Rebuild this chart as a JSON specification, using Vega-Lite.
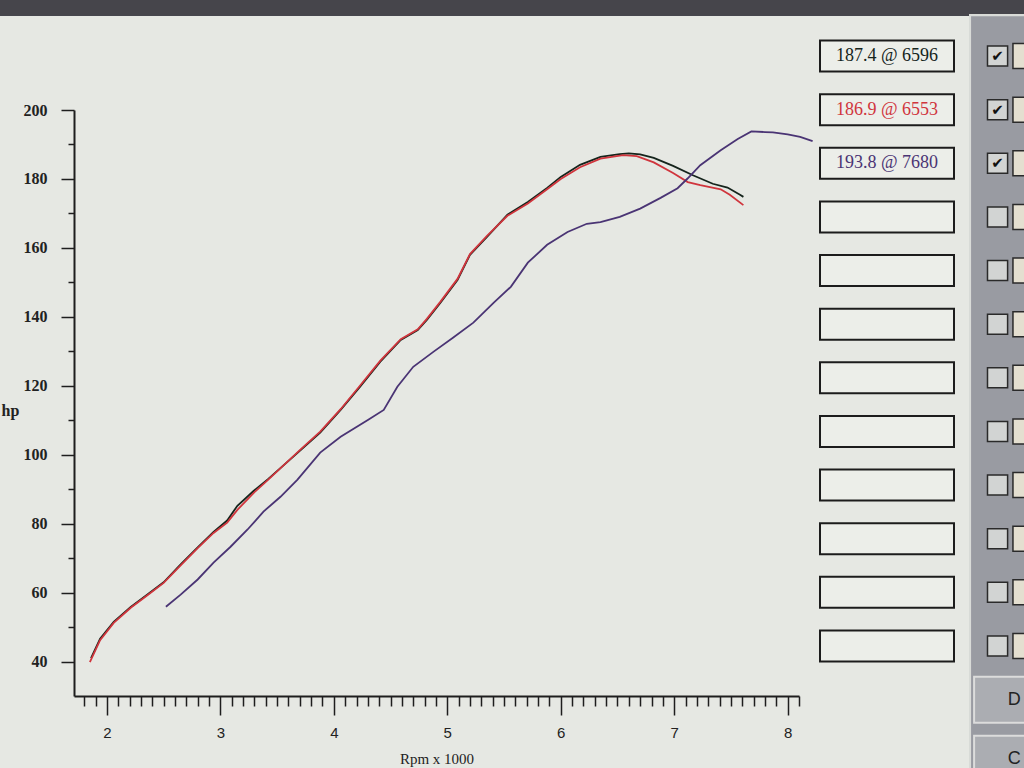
{
  "$schema": "https://vega.github.io/schema/vega-lite/v6.json",
  "width": 725,
  "height": 586,
  "autosize": {"type": "none"},
  "padding": {"left": 74, "top": 110, "right": 225, "bottom": 72},
  "background": "#e6e8e3",
  "config": {"view": {"stroke": null}, "font": "Liberation Serif"},
  "datasets": {
    "runs": [
      {"run": "187.4 @ 6596", "rpm": 1.86, "hp": 41.0},
      {"run": "187.4 @ 6596", "rpm": 1.94, "hp": 46.6},
      {"run": "187.4 @ 6596", "rpm": 2.06, "hp": 51.5},
      {"run": "187.4 @ 6596", "rpm": 2.21, "hp": 55.8},
      {"run": "187.4 @ 6596", "rpm": 2.36, "hp": 59.5},
      {"run": "187.4 @ 6596", "rpm": 2.5, "hp": 63.0},
      {"run": "187.4 @ 6596", "rpm": 2.65, "hp": 68.2},
      {"run": "187.4 @ 6596", "rpm": 2.8, "hp": 73.1},
      {"run": "187.4 @ 6596", "rpm": 2.94, "hp": 77.6},
      {"run": "187.4 @ 6596", "rpm": 3.06, "hp": 80.9},
      {"run": "187.4 @ 6596", "rpm": 3.15, "hp": 85.2},
      {"run": "187.4 @ 6596", "rpm": 3.29, "hp": 89.4},
      {"run": "187.4 @ 6596", "rpm": 3.42, "hp": 92.9},
      {"run": "187.4 @ 6596", "rpm": 3.71, "hp": 101.4},
      {"run": "187.4 @ 6596", "rpm": 3.88, "hp": 106.4},
      {"run": "187.4 @ 6596", "rpm": 4.06, "hp": 113.0},
      {"run": "187.4 @ 6596", "rpm": 4.23, "hp": 119.7},
      {"run": "187.4 @ 6596", "rpm": 4.41, "hp": 127.0},
      {"run": "187.4 @ 6596", "rpm": 4.59, "hp": 133.3},
      {"run": "187.4 @ 6596", "rpm": 4.74, "hp": 136.2},
      {"run": "187.4 @ 6596", "rpm": 4.82, "hp": 139.1},
      {"run": "187.4 @ 6596", "rpm": 4.94, "hp": 144.1},
      {"run": "187.4 @ 6596", "rpm": 5.09, "hp": 150.7},
      {"run": "187.4 @ 6596", "rpm": 5.2, "hp": 158.0},
      {"run": "187.4 @ 6596", "rpm": 5.35, "hp": 163.2},
      {"run": "187.4 @ 6596", "rpm": 5.53, "hp": 169.6},
      {"run": "187.4 @ 6596", "rpm": 5.71, "hp": 173.3},
      {"run": "187.4 @ 6596", "rpm": 5.88, "hp": 177.4},
      {"run": "187.4 @ 6596", "rpm": 6.0, "hp": 180.6},
      {"run": "187.4 @ 6596", "rpm": 6.17, "hp": 184.1},
      {"run": "187.4 @ 6596", "rpm": 6.35, "hp": 186.4},
      {"run": "187.4 @ 6596", "rpm": 6.52, "hp": 187.2},
      {"run": "187.4 @ 6596", "rpm": 6.6, "hp": 187.4},
      {"run": "187.4 @ 6596", "rpm": 6.7, "hp": 187.1},
      {"run": "187.4 @ 6596", "rpm": 6.82, "hp": 186.1},
      {"run": "187.4 @ 6596", "rpm": 6.99, "hp": 183.8},
      {"run": "187.4 @ 6596", "rpm": 7.17, "hp": 181.0},
      {"run": "187.4 @ 6596", "rpm": 7.34, "hp": 178.6},
      {"run": "187.4 @ 6596", "rpm": 7.47, "hp": 177.5},
      {"run": "187.4 @ 6596", "rpm": 7.58, "hp": 175.4},
      {"run": "187.4 @ 6596", "rpm": 7.61, "hp": 174.8},
      {"run": "186.9 @ 6553", "rpm": 1.85, "hp": 39.8},
      {"run": "186.9 @ 6553", "rpm": 1.94, "hp": 46.2},
      {"run": "186.9 @ 6553", "rpm": 2.06, "hp": 51.2},
      {"run": "186.9 @ 6553", "rpm": 2.21, "hp": 55.6},
      {"run": "186.9 @ 6553", "rpm": 2.36, "hp": 59.3},
      {"run": "186.9 @ 6553", "rpm": 2.5, "hp": 62.8},
      {"run": "186.9 @ 6553", "rpm": 2.65, "hp": 67.9},
      {"run": "186.9 @ 6553", "rpm": 2.8, "hp": 72.9},
      {"run": "186.9 @ 6553", "rpm": 2.94, "hp": 77.3},
      {"run": "186.9 @ 6553", "rpm": 3.06, "hp": 80.3},
      {"run": "186.9 @ 6553", "rpm": 3.15, "hp": 84.0},
      {"run": "186.9 @ 6553", "rpm": 3.29, "hp": 88.8},
      {"run": "186.9 @ 6553", "rpm": 3.42, "hp": 92.7},
      {"run": "186.9 @ 6553", "rpm": 3.71, "hp": 101.6},
      {"run": "186.9 @ 6553", "rpm": 3.88, "hp": 106.7},
      {"run": "186.9 @ 6553", "rpm": 4.06, "hp": 113.2},
      {"run": "186.9 @ 6553", "rpm": 4.23, "hp": 120.0},
      {"run": "186.9 @ 6553", "rpm": 4.41, "hp": 127.3},
      {"run": "186.9 @ 6553", "rpm": 4.59, "hp": 133.5},
      {"run": "186.9 @ 6553", "rpm": 4.74, "hp": 136.4},
      {"run": "186.9 @ 6553", "rpm": 4.82, "hp": 139.4},
      {"run": "186.9 @ 6553", "rpm": 4.94, "hp": 144.4},
      {"run": "186.9 @ 6553", "rpm": 5.09, "hp": 151.0},
      {"run": "186.9 @ 6553", "rpm": 5.2, "hp": 158.2},
      {"run": "186.9 @ 6553", "rpm": 5.35, "hp": 163.5},
      {"run": "186.9 @ 6553", "rpm": 5.53, "hp": 169.3},
      {"run": "186.9 @ 6553", "rpm": 5.71, "hp": 172.9},
      {"run": "186.9 @ 6553", "rpm": 5.88, "hp": 177.0},
      {"run": "186.9 @ 6553", "rpm": 6.0, "hp": 180.0},
      {"run": "186.9 @ 6553", "rpm": 6.17, "hp": 183.4},
      {"run": "186.9 @ 6553", "rpm": 6.35, "hp": 185.9},
      {"run": "186.9 @ 6553", "rpm": 6.55, "hp": 186.9},
      {"run": "186.9 @ 6553", "rpm": 6.67, "hp": 186.6},
      {"run": "186.9 @ 6553", "rpm": 6.82, "hp": 184.8},
      {"run": "186.9 @ 6553", "rpm": 6.99, "hp": 181.7},
      {"run": "186.9 @ 6553", "rpm": 7.12, "hp": 179.1},
      {"run": "186.9 @ 6553", "rpm": 7.23, "hp": 178.2},
      {"run": "186.9 @ 6553", "rpm": 7.41, "hp": 177.0},
      {"run": "186.9 @ 6553", "rpm": 7.49, "hp": 175.4},
      {"run": "186.9 @ 6553", "rpm": 7.61, "hp": 172.4},
      {"run": "193.8 @ 7680", "rpm": 2.52, "hp": 55.9},
      {"run": "193.8 @ 7680", "rpm": 2.65, "hp": 59.4},
      {"run": "193.8 @ 7680", "rpm": 2.8, "hp": 63.8},
      {"run": "193.8 @ 7680", "rpm": 2.94, "hp": 68.7},
      {"run": "193.8 @ 7680", "rpm": 3.09, "hp": 73.3},
      {"run": "193.8 @ 7680", "rpm": 3.24, "hp": 78.3},
      {"run": "193.8 @ 7680", "rpm": 3.38, "hp": 83.5},
      {"run": "193.8 @ 7680", "rpm": 3.53, "hp": 87.8},
      {"run": "193.8 @ 7680", "rpm": 3.68, "hp": 92.8},
      {"run": "193.8 @ 7680", "rpm": 3.88, "hp": 100.6},
      {"run": "193.8 @ 7680", "rpm": 4.06, "hp": 105.2},
      {"run": "193.8 @ 7680", "rpm": 4.3, "hp": 110.1},
      {"run": "193.8 @ 7680", "rpm": 4.44, "hp": 113.0},
      {"run": "193.8 @ 7680", "rpm": 4.56, "hp": 119.7},
      {"run": "193.8 @ 7680", "rpm": 4.7, "hp": 125.5},
      {"run": "193.8 @ 7680", "rpm": 4.88, "hp": 129.9},
      {"run": "193.8 @ 7680", "rpm": 5.05, "hp": 133.9},
      {"run": "193.8 @ 7680", "rpm": 5.23, "hp": 138.3},
      {"run": "193.8 @ 7680", "rpm": 5.41, "hp": 144.1},
      {"run": "193.8 @ 7680", "rpm": 5.56, "hp": 148.7},
      {"run": "193.8 @ 7680", "rpm": 5.71, "hp": 155.7},
      {"run": "193.8 @ 7680", "rpm": 5.88, "hp": 160.9},
      {"run": "193.8 @ 7680", "rpm": 6.06, "hp": 164.6},
      {"run": "193.8 @ 7680", "rpm": 6.23, "hp": 167.0},
      {"run": "193.8 @ 7680", "rpm": 6.35, "hp": 167.5},
      {"run": "193.8 @ 7680", "rpm": 6.52, "hp": 169.0},
      {"run": "193.8 @ 7680", "rpm": 6.7, "hp": 171.4},
      {"run": "193.8 @ 7680", "rpm": 6.88, "hp": 174.5},
      {"run": "193.8 @ 7680", "rpm": 7.03, "hp": 177.3},
      {"run": "193.8 @ 7680", "rpm": 7.12, "hp": 180.2},
      {"run": "193.8 @ 7680", "rpm": 7.23, "hp": 184.0},
      {"run": "193.8 @ 7680", "rpm": 7.41, "hp": 188.3},
      {"run": "193.8 @ 7680", "rpm": 7.56, "hp": 191.6},
      {"run": "193.8 @ 7680", "rpm": 7.68, "hp": 193.8},
      {"run": "193.8 @ 7680", "rpm": 7.8, "hp": 193.6},
      {"run": "193.8 @ 7680", "rpm": 7.87, "hp": 193.5},
      {"run": "193.8 @ 7680", "rpm": 8.0, "hp": 192.9},
      {"run": "193.8 @ 7680", "rpm": 8.11, "hp": 192.2},
      {"run": "193.8 @ 7680", "rpm": 8.22, "hp": 191.0}
    ],
    "panel": [
      {"slot": 1, "kind": "entry", "run": "187.4 @ 6596", "checked": true},
      {"slot": 2, "kind": "entry", "run": "186.9 @ 6553", "checked": true},
      {"slot": 3, "kind": "entry", "run": "193.8 @ 7680", "checked": true},
      {"slot": 4, "kind": "entry", "run": null, "checked": false},
      {"slot": 5, "kind": "entry", "run": null, "checked": false},
      {"slot": 6, "kind": "entry", "run": null, "checked": false},
      {"slot": 7, "kind": "entry", "run": null, "checked": false},
      {"slot": 8, "kind": "entry", "run": null, "checked": false},
      {"slot": 9, "kind": "entry", "run": null, "checked": false},
      {"slot": 10, "kind": "entry", "run": null, "checked": false},
      {"slot": 11, "kind": "entry", "run": null, "checked": false},
      {"slot": 12, "kind": "entry", "run": null, "checked": false},
      {"slot": 13, "kind": "button", "label": "D"},
      {"slot": 14.1, "kind": "button", "label": "C"}
    ]
  },
  "layer": [
    {
      "data": {"name": "runs"},
      "mark": {"type": "line", "strokeWidth": 1.8, "clip": false},
      "encoding": {
        "x": {
          "field": "rpm",
          "type": "quantitative",
          "scale": {"domain": [1.71, 8.1], "nice": false, "zero": false},
          "axis": {
            "orient": "bottom",
            "values": [1.8,1.9,2,2.1,2.2,2.3,2.4,2.5,2.6,2.7,2.8,2.9,3,3.1,3.2,3.3,3.4,3.5,3.6,3.7,3.8,3.9,4,4.1,4.2,4.3,4.4,4.5,4.6,4.7,4.8,4.9,5,5.1,5.2,5.3,5.4,5.5,5.6,5.7,5.8,5.9,6,6.1,6.2,6.3,6.4,6.5,6.6,6.7,6.8,6.9,7,7.1,7.2,7.3,7.4,7.5,7.6,7.7,7.8,7.9,8,8.1],
            "grid": false,
            "domainColor": "#1e1e1e",
            "domainWidth": 2,
            "tickColor": "#1e1e1e",
            "tickWidth": 1.5,
            "tickSize": {"condition": {"test": "abs(datum.value - round(datum.value)) < 0.001", "value": 19}, "value": 10},
            "labelExpr": "abs(datum.value - round(datum.value)) < 0.001 ? format(datum.value, 'd') : ''",
            "labelFont": "Liberation Sans",
            "labelFontSize": 15,
            "labelColor": "#222222",
            "labelBaseline": "top",
            "labelPadding": 10,
            "labelFlush": false,
            "labelOverlap": false,
            "title": "Rpm x 1000",
            "titleFont": "Liberation Serif",
            "titleFontSize": 15,
            "titleFontWeight": "normal",
            "titleColor": "#222222",
            "titleBaseline": "top",
            "titleY": 55
          }
        },
        "y": {
          "field": "hp",
          "type": "quantitative",
          "scale": {"domain": [30, 200], "nice": false, "zero": false},
          "axis": {
            "orient": "left",
            "values": [40,50,60,70,80,90,100,110,120,130,140,150,160,170,180,190,200],
            "grid": false,
            "domainColor": "#1e1e1e",
            "domainWidth": 2,
            "tickColor": "#1e1e1e",
            "tickWidth": 1.5,
            "tickSize": {"condition": {"test": "datum.value % 20 === 0", "value": 13}, "value": 6},
            "labelExpr": "datum.value % 20 === 0 ? datum.label : ''",
            "labelFont": "Liberation Serif",
            "labelFontSize": 16,
            "labelFontWeight": "bold",
            "labelColor": "#222222",
            "labelPadding": 14,
            "labelFlush": false,
            "labelOverlap": false,
            "title": "hp",
            "titleFont": "Liberation Serif",
            "titleFontSize": 16,
            "titleFontWeight": "bold",
            "titleColor": "#222222",
            "titleAngle": 0,
            "titleAlign": "left",
            "titleBaseline": "middle",
            "titleX": -73,
            "titleY": 300
          }
        },
        "color": {
          "field": "run",
          "type": "nominal",
          "scale": {"domain": ["187.4 @ 6596", "186.9 @ 6553", "193.8 @ 7680"], "range": ["#15241c", "#d0353d", "#4a3474"]},
          "legend": null
        }
      }
    },
    {
      "data": {"name": "panel"},
      "layer": [
        {
          "mark": {"type": "rect", "fill": "#46454b"},
          "encoding": {
            "x": {"datum": -8, "type": "quantitative", "scale": {"domain": [0, 1], "range": [746, 880], "nice": false, "zero": false}, "axis": null},
            "x2": {"datum": 3},
            "y": {"datum": -1, "type": "quantitative", "scale": {"domain": [1, 12], "range": [-54, 536], "nice": false, "zero": false}, "axis": null},
            "y2": {"datum": 0.24}
          }
        },
        {
          "mark": {"type": "rect", "fill": "#999ba2", "stroke": "#d9dbd8", "strokeWidth": 2},
          "encoding": {
            "x": {"datum": 1.12, "type": "quantitative", "scale": {"domain": [0, 1], "range": [746, 880], "nice": false, "zero": false}, "axis": null},
            "x2": {"datum": 3},
            "y": {"datum": 0.24, "type": "quantitative", "scale": {"domain": [1, 12], "range": [-54, 536], "nice": false, "zero": false}, "axis": null},
            "y2": {"datum": 16}
          }
        },
        {
          "transform": [{"filter": "datum.kind === 'entry'"}],
          "mark": {"type": "rect", "height": 31, "fill": "#eceee9", "stroke": "#1c1c1c", "strokeWidth": 2},
          "encoding": {
            "x": {"datum": 0, "type": "quantitative", "scale": {"domain": [0, 1], "range": [746, 880], "nice": false, "zero": false}, "axis": null},
            "x2": {"datum": 1},
            "y": {"field": "slot", "type": "quantitative", "scale": {"domain": [1, 12], "range": [-54, 536], "nice": false, "zero": false}, "axis": null}
          }
        },
        {
          "transform": [{"filter": "datum.kind === 'entry' && datum.run != null"}],
          "mark": {"type": "text", "font": "Liberation Serif", "fontSize": 18, "align": "center", "baseline": "middle"},
          "encoding": {
            "x": {"datum": 0.5, "type": "quantitative", "scale": {"domain": [0, 1], "range": [746, 880], "nice": false, "zero": false}, "axis": null},
            "y": {"field": "slot", "type": "quantitative", "scale": {"domain": [1, 12], "range": [-54, 536], "nice": false, "zero": false}, "axis": null},
            "text": {"field": "run"},
            "color": {"field": "run", "type": "nominal", "legend": null}
          }
        },
        {
          "transform": [{"filter": "datum.kind === 'entry'"}],
          "mark": {"type": "rect", "height": 20, "fill": "#d2d4d3", "stroke": "#2a2a2a", "strokeWidth": 1.5},
          "encoding": {
            "x": {"datum": 1.25, "type": "quantitative", "scale": {"domain": [0, 1], "range": [746, 880], "nice": false, "zero": false}, "axis": null},
            "x2": {"datum": 1.4},
            "y": {"field": "slot", "type": "quantitative", "scale": {"domain": [1, 12], "range": [-54, 536], "nice": false, "zero": false}, "axis": null}
          }
        },
        {
          "transform": [{"filter": "datum.kind === 'entry' && datum.checked"}],
          "mark": {"type": "text", "text": "✔", "font": "DejaVu Sans", "fontSize": 15, "fontWeight": "bold", "color": "#111111", "align": "center", "baseline": "middle"},
          "encoding": {
            "x": {"datum": 1.325, "type": "quantitative", "scale": {"domain": [0, 1], "range": [746, 880], "nice": false, "zero": false}, "axis": null},
            "y": {"field": "slot", "type": "quantitative", "scale": {"domain": [1, 12], "range": [-54, 536], "nice": false, "zero": false}, "axis": null}
          }
        },
        {
          "transform": [{"filter": "datum.kind === 'entry'"}],
          "mark": {"type": "rect", "height": 25, "fill": "#e4dfd0", "stroke": "#2a2a2a", "strokeWidth": 1.5},
          "encoding": {
            "x": {"datum": 1.44, "type": "quantitative", "scale": {"domain": [0, 1], "range": [746, 880], "nice": false, "zero": false}, "axis": null},
            "x2": {"datum": 1.8},
            "y": {"field": "slot", "type": "quantitative", "scale": {"domain": [1, 12], "range": [-54, 536], "nice": false, "zero": false}, "axis": null}
          }
        },
        {
          "transform": [{"filter": "datum.kind === 'button'"}],
          "mark": {"type": "rect", "height": 46, "fill": "#abadb2", "stroke": "#dcdcdc", "strokeWidth": 2},
          "encoding": {
            "x": {"datum": 1.15, "type": "quantitative", "scale": {"domain": [0, 1], "range": [746, 880], "nice": false, "zero": false}, "axis": null},
            "x2": {"datum": 1.8},
            "y": {"field": "slot", "type": "quantitative", "scale": {"domain": [1, 12], "range": [-54, 536], "nice": false, "zero": false}, "axis": null}
          }
        },
        {
          "transform": [{"filter": "datum.kind === 'button'"}],
          "mark": {"type": "text", "font": "Liberation Sans", "fontSize": 18, "color": "#222222", "align": "center", "baseline": "middle"},
          "encoding": {
            "x": {"datum": 1.45, "type": "quantitative", "scale": {"domain": [0, 1], "range": [746, 880], "nice": false, "zero": false}, "axis": null},
            "y": {"field": "slot", "type": "quantitative", "scale": {"domain": [1, 12], "range": [-54, 536], "nice": false, "zero": false}, "axis": null},
            "text": {"field": "label"}
          }
        }
      ]
    }
  ],
  "resolve": {"scale": {"x": "independent", "y": "independent"}}
}
